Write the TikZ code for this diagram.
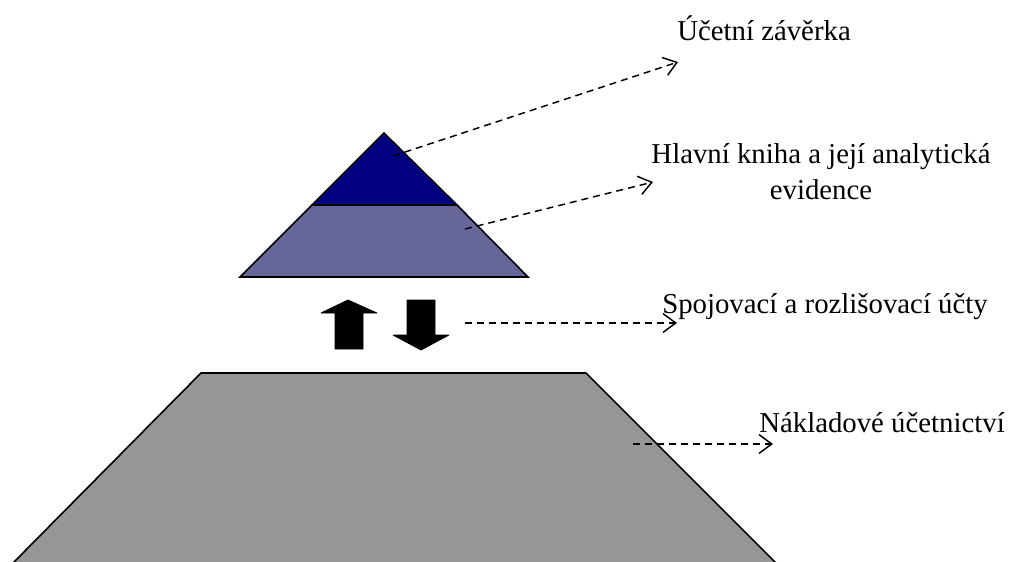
\documentclass[tikz,border=0pt]{standalone}
\usepackage{fontspec}
\setmainfont{Liberation Serif}
\usetikzlibrary{arrows.meta}
\definecolor{topblue}{RGB}{0,0,128}
\definecolor{midblue}{RGB}{102,102,153}
\definecolor{basegray}{RGB}{150,150,150}
\begin{document}
\begin{tikzpicture}[x=0.75pt,y=-0.75pt,
  layer/.style={draw=black,line width=1.2pt,line join=miter},
  blockarrow/.style={fill=black,draw=black,line width=0.6pt,line join=round},
  pointer/.style={draw=black,line width=1.1pt,dash pattern=on 5.25pt off 3.75pt,
    -{Straight Barb[length=9.5pt,width=14pt,line width=1.1pt]}},
  caption/.style={font=\fontsize{21.6}{27}\selectfont,inner sep=0pt,text=black}]
\useasboundingbox (0,0) rectangle (1014,561);

% base layer: cost accounting
\path[layer,fill=basegray] (13,563) -- (201,373) -- (586,373) -- (776,563);
% pyramid: lower and upper layers
\path[layer,fill=midblue] (240,277) -- (312,205) -- (457,205) -- (528,277) -- cycle;
\path[layer,fill=topblue] (312,205) -- (384,133) -- (457,205) -- cycle;

% block arrows between the layers
\path[blockarrow] (348,300) -- (377,313) -- (363,313) -- (363,349) -- (335,349)
  -- (335,313) -- (321,313) -- cycle;
\path[blockarrow] (407,300) -- (435,300) -- (435,335) -- (449,335) -- (421,350)
  -- (393,335) -- (407,335) -- cycle;

% captions
\node[caption,anchor=base west] (zaverka) at (677,40) {Účetní závěrka};
\node[caption,anchor=base,align=center] (kniha) at (821,199)
  {Hlavní kniha a její analytická\\evidence};
\node[caption,anchor=base west] (ucty) at (662,313) {Spojovací a rozlišovací účty};
\node[caption,anchor=base west] (naklady) at (759,432) {Nákladové účetnictví};

% pointer start and end points
\coordinate (s1) at (393,156);
\coordinate (e1) at (678,62);
\coordinate (s2) at (465,229);
\coordinate (e2) at (653,182);
\coordinate (s3) at (465,323);
\coordinate (e3) at (677,323);
\coordinate (s4) at (633,444);
\coordinate (e4) at (773,444);

\draw[pointer] (s1) -- (e1);
\draw[pointer] (s2) -- (e2);
\draw[pointer] (s3) -- (e3);
\draw[pointer] (s4) -- (e4);
\end{tikzpicture}
\end{document}
